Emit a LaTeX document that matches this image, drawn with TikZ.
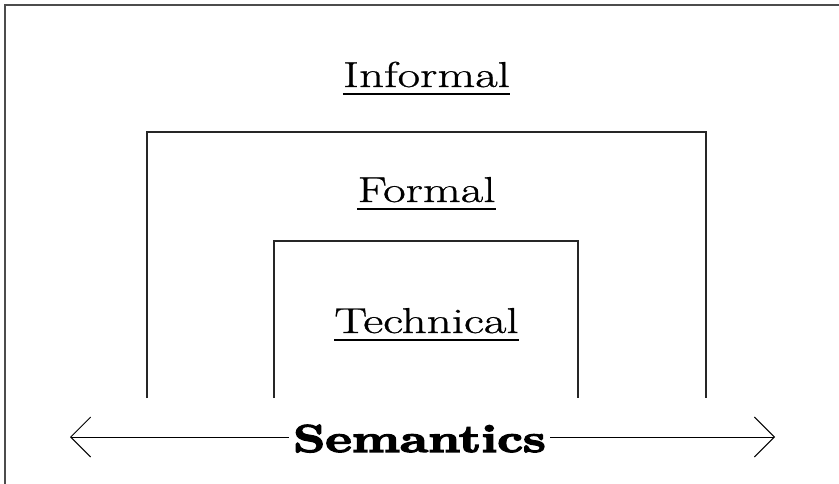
\documentclass[tikz,border=0pt]{standalone}
\usepackage{fontspec}
\setmainfont{Latin Modern Roman}
\newfontfamily\labelfont{Latin Modern Roman}[FakeBold=0.7]
\newfontfamily\axisfont{lmroman10-bold}[Extension=.otf,FakeBold=3.2]
\usetikzlibrary{arrows.meta}
\begin{document}
\begin{tikzpicture}[x=1pt,y=-1pt,
  frame/.style={draw=black!85,line width=1.8pt},
  outerframe/.style={draw=black!70,line width=1.5pt},
  label/.style={font=\labelfont\fontsize{36}{44}\selectfont,inner sep=0pt,xscale=1.36,anchor=base},
  uline/.style={draw=black,line width=2.2pt},
  axis/.style={draw=black,line width=0.9pt},
  barb/.tip={Straight Barb[length=20pt,width=40pt,line width=0.9pt]}]
  \useasboundingbox (0,0) rectangle (839,484);
  \fill[white] (0,0) rectangle (839,484);
  % page frame (only top and left edges fall inside the picture)
  \draw[outerframe] (5,490) -- (5,5) -- (845,5);
  % nested domains
  \draw[frame] (147,398) -- (147,132) -- (706,132) -- (706,398);
  \draw[frame] (274,398) -- (274,241) -- (578,241) -- (578,398);
  % labels, each with its underline
  \node[label] (informal) at (426.5,87) {Informal};
  \node[label] (formal) at (426.5,202) {Formal};
  \node[label] (technical) at (426.5,333) {Technical};
  \foreach \n in {informal,formal,technical}
    \draw[uline] ([yshift=-7pt]\n.base west) -- ([yshift=-7pt]\n.base east);
  % semantics axis
  \node[font=\axisfont\fontsize{39}{46}\selectfont,inner sep=0pt,xscale=1.29,anchor=base] (sem) at (419.5,452) {Semantics};
  \coordinate (left) at (70,437);
  \coordinate (right) at (775,437);
  \draw[axis,barb-] (left) -- ([xshift=-4pt]sem.west |- left);
  \draw[axis,-barb] ([xshift=4pt]sem.east |- right) -- (right);
\end{tikzpicture}
\end{document}
